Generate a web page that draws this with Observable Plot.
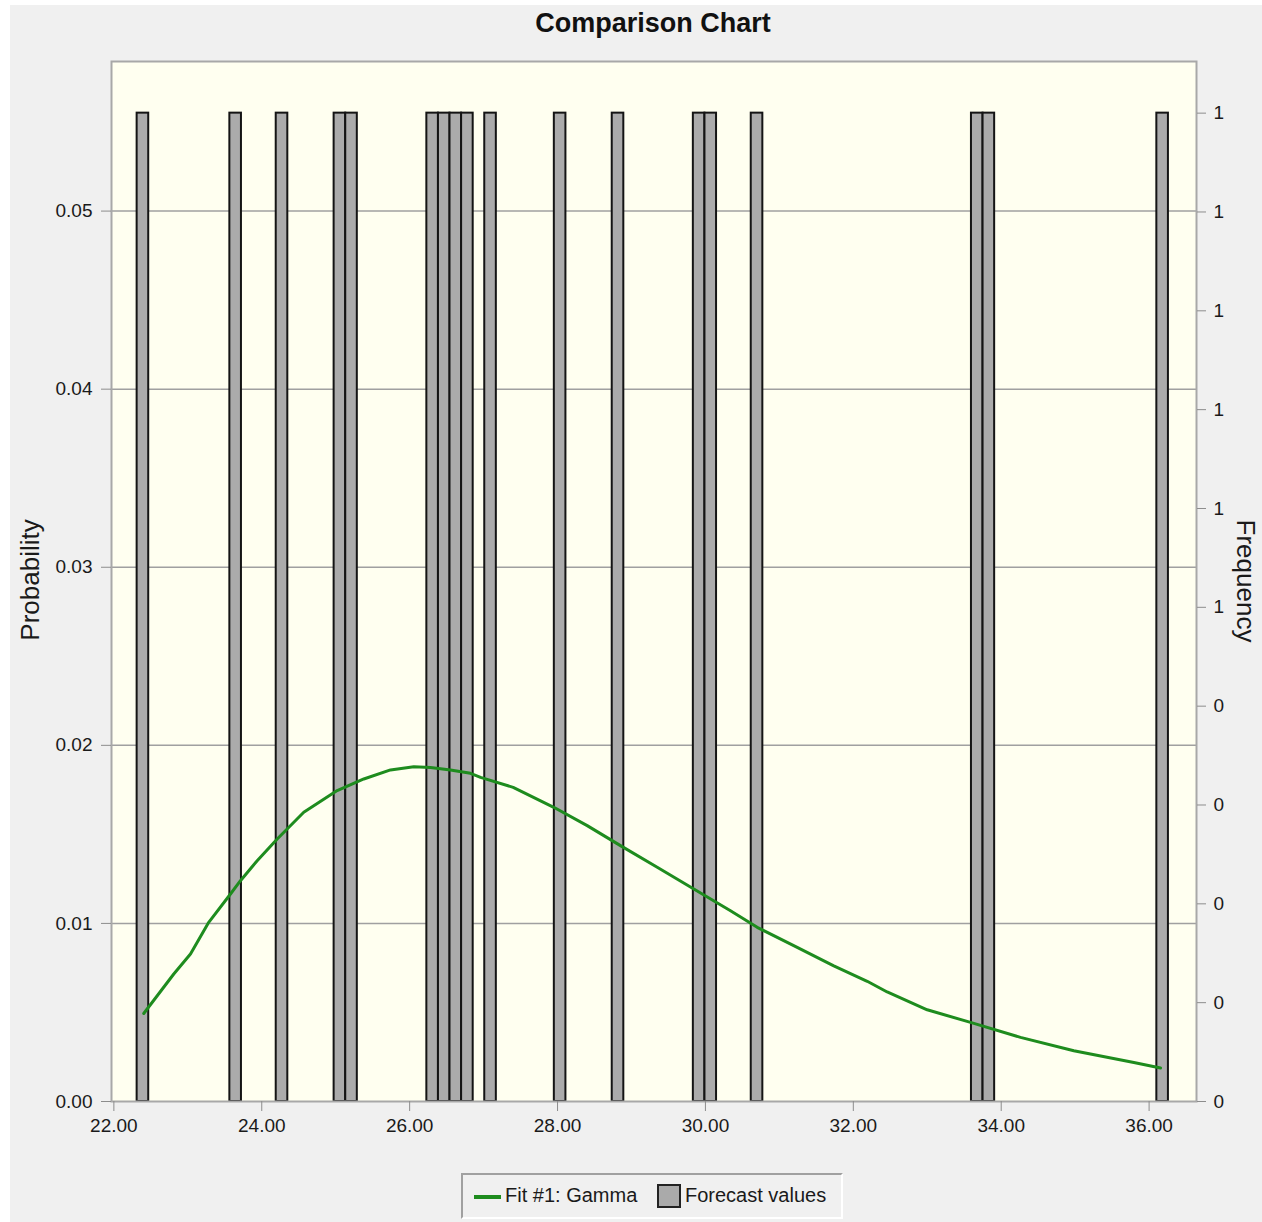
<!DOCTYPE html>
<html>
<head>
<meta charset="utf-8">
<script src="https://cdn.jsdelivr.net/npm/d3@7"></script>
<script src="https://cdn.jsdelivr.net/npm/@observablehq/plot@0.6"></script>
<style>
  html, body { margin: 0; padding: 0; background: #ffffff; }
  body { width: 1262px; height: 1222px; position: relative; overflow: hidden; font-family: "Liberation Sans", Arial, sans-serif; }
  #panel { position: absolute; left: 10px; top: 5px; width: 1252px; height: 1217px; background: #f0f0f0; }
  #chart { position: absolute; left: 0; top: 0; }
  #title { position: absolute; left: 0; width: 1306px; top: 8px; text-align: center; font-weight: bold; font-size: 27px; color: #111; }
  .ylab { position: absolute; white-space: nowrap; font-size: 26px; color: #1a1a1a; }
  #legend { position: absolute; left: 461px; top: 1173px; width: 378px; height: 42px; border-style: solid; border-width: 2px; border-color: #a0a0a0 #ffffff #ffffff #a0a0a0; background: #f0f0f0; }
  .lg { position: absolute; white-space: nowrap; font-size: 20px; color: #1a1a1a; }
</style>
</head>
<body>
<div id="panel"></div>
<div id="chart"></div>
<div id="title">Comparison Chart</div>
<div class="ylab" id="ylabL" style="left:30px; top:580px; transform: translate(-50%,-50%) rotate(-90deg);">Probability</div>
<div class="ylab" id="ylabR" style="left:1245px; top:581px; transform: translate(-50%,-50%) rotate(90deg);">Frequency</div>
<div id="legend">
  <span style="position:absolute; left:11px; top:20px; width:27px; height:4px; background:#1e8c1e;"></span>
  <span class="lg" style="left:42px; top:9px;">Fit #1: Gamma</span>
  <span style="position:absolute; left:194px; top:9px; width:20px; height:20px; background:#aaaaaa; border:2px solid #222;"></span>
  <span class="lg" style="left:222px; top:9px;">Forecast values</span>
</div>
<script>
// ---- data ----
const xTicks = [22, 24, 26, 28, 30, 32, 34, 36];
const probTicks = [0, 0.01, 0.02, 0.03, 0.04, 0.05];
const freqTicks = [0, 0.1, 0.2, 0.3, 0.4, 0.5, 0.6, 0.7, 0.8, 0.9, 1.0];
const freqTickLabels = ["0", "0", "0", "0", "0", "1", "1", "1", "1", "1", "1"];

// Forecast values histogram: bin centers and frequencies
const binWidth = 0.1567;
const forecastBins = [22.393, 23.647, 24.274, 25.057, 25.214, 26.311, 26.468, 26.624, 26.781,
                      27.094, 28.035, 28.818, 29.915, 30.072, 30.698, 33.676, 33.833, 36.183];
const forecastFreq = [1, 1, 1, 1, 1, 1, 1, 1, 1, 1, 1, 1, 1, 1, 1, 1, 1, 1];

// Fit #1: Gamma curve (x value, probability)
const gammaX = [22.404, 22.810, 23.036, 23.283, 23.577, 23.712, 23.938, 24.209, 24.568, 25.020,
                25.380, 25.741, 26.056, 26.282, 26.552, 26.823, 26.959, 27.400, 27.949, 28.401,
                28.851, 29.348, 29.843, 30.339, 30.700, 31.241, 31.736, 32.188, 32.458, 32.999,
                33.585, 34.261, 34.982, 35.794, 36.155];
const gammaP = [0.00494, 0.00716, 0.00828, 0.01006, 0.01165, 0.01240, 0.01352, 0.01474, 0.01624, 0.01746,
                0.01811, 0.01862, 0.01880, 0.01876, 0.01862, 0.01843, 0.01820, 0.01764, 0.01652, 0.01549,
                0.01437, 0.01315, 0.01193, 0.01071, 0.00978, 0.00865, 0.00762, 0.00675, 0.00615, 0.00515,
                0.00444, 0.00360, 0.00285, 0.00219, 0.00188];

// secondary (frequency) axis scaling into probability units
const freqToProb = 0.0555;

const bars = forecastBins.map((x, i) => ({x, freq: forecastFreq[i]}));
const gamma = gammaX.map((x, i) => ({x, p: gammaP[i]}));

const textColor = "#1a1a1a";
const tickColor = "#8c8c8c";

const chart = Plot.plot({
  width: 1262,
  height: 1160,
  marginLeft: 111,
  marginRight: 66,
  marginTop: 61,
  marginBottom: 59,
  style: {background: "transparent", fontFamily: "'Liberation Sans', Arial, sans-serif", fontSize: "19px", color: textColor},
  x: {domain: [21.968, 36.641]},
  y: {domain: [0, 0.0584]},
  marks: [
    Plot.frame({fill: "#fffff0", stroke: "none"}),
    Plot.gridY(probTicks.slice(1), {stroke: "#a0a0a0", strokeOpacity: 1, strokeWidth: 1.5}),
    Plot.rectY(bars, {
      x1: d => d.x - binWidth / 2,
      x2: d => d.x + binWidth / 2,
      y1: 0,
      y2: d => d.freq * freqToProb,
      fill: "#ababab",
      stroke: "#141414",
      strokeWidth: 2
    }),
    Plot.line(gamma, {x: "x", y: "p", stroke: "#1e8c1e", strokeWidth: 3, curve: "linear"}),
    Plot.frame({stroke: "#a8a8a8", strokeWidth: 2}),
    Plot.axisX(xTicks, {anchor: "bottom", tickFormat: d3.format(".2f"), tickSize: 10, tickPadding: 7,
      stroke: tickColor, fill: textColor, label: null}),
    Plot.axisY(probTicks, {anchor: "left", tickFormat: d3.format(".2f"), tickSize: 10, tickPadding: 9,
      stroke: tickColor, fill: textColor, label: null}),
    Plot.axisY(freqTicks.map(f => f * freqToProb), {
      anchor: "right",
      tickFormat: d => {
        const i = freqTicks.findIndex(f => Math.abs(f * freqToProb - d) < 1e-9);
        return i >= 0 ? freqTickLabels[i] : "";
      },
      tickSize: 9, tickPadding: 8, stroke: tickColor, fill: textColor, label: null
    })
  ]
});
document.getElementById("chart").appendChild(chart);
</script>
</body>
</html>
